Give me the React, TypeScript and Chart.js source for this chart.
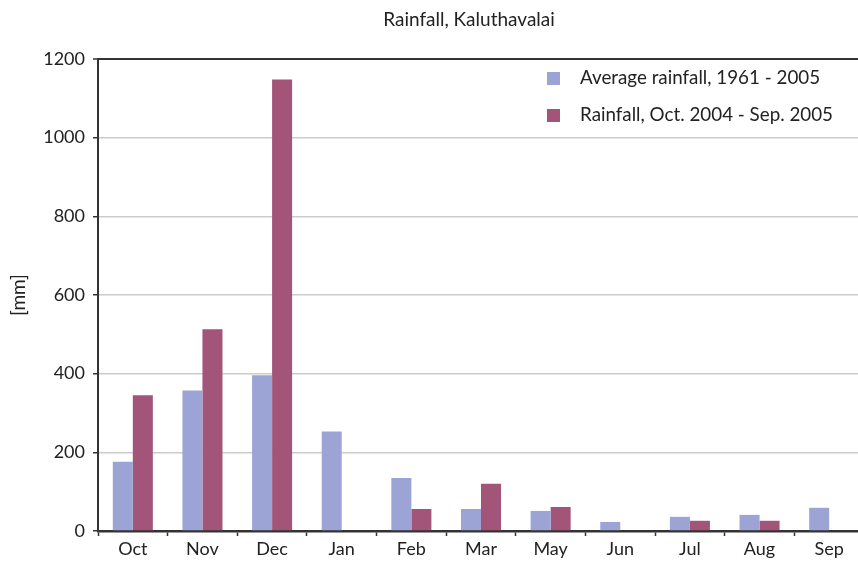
import React, { useEffect, useRef } from "react";
import { Chart, registerables } from "chart.js";

Chart.register(...registerables);

const TITLE = "Rainfall, Kaluthavalai";
const Y_TITLE = "[mm]";
const months = ["Oct", "Nov", "Dec", "Jan", "Feb", "Mar", "May", "Jun", "Jul", "Aug", "Sep"];
const avgLabel = "Average rainfall, 1961 - 2005";
const rainLabel = "Rainfall, Oct. 2004 - Sep. 2005";
const avgRain = [176, 357, 396, 253, 135, 56, 51, 23, 36, 41, 59];
const rain0405 = [345, 513, 1148, 0, 56, 120, 61, 0, 26, 26, 0];
const yTicks = [0, 200, 400, 600, 800, 1000, 1200];

const AVG_COLOR = "#9ca4d5";
const RAIN_COLOR = "#a25479";
const AXIS = "#333333";
const GRID = "#cccccc";
const FONT = "Lato";

const titlePlugin = {
  id: "centerTitle",
  afterDraw(chart: any) {
    const { ctx } = chart;
    ctx.save();
    ctx.font = `19px ${FONT}`;
    ctx.fillStyle = "#222";
    ctx.textAlign = "center";
    ctx.textBaseline = "middle";
    ctx.fillText(TITLE, chart.width / 2, 20);
    ctx.restore();
  },
};

const legendPlugin = {
  id: "insideLegend",
  afterDatasetsDraw(chart: any) {
    const { ctx, chartArea } = chart;
    const items = chart.data.datasets;
    ctx.save();
    ctx.font = `18.8px ${FONT}`;
    ctx.textBaseline = "middle";
    ctx.textAlign = "left";
    items.forEach((ds: any, i: number) => {
      const x = chartArea.right - 317;
      const y = chartArea.top + 19 + i * 37;
      ctx.fillStyle = ds.backgroundColor;
      ctx.fillRect(x, y - 6, 13, 13);
      ctx.fillStyle = "#222";
      ctx.fillText(ds.label, x + 33, y);
    });
    ctx.restore();
  },
};

export default function App() {
  const ref = useRef<HTMLCanvasElement>(null);
  useEffect(() => {
    if (!ref.current) return;
    const chart = new Chart(ref.current, {
      type: "bar",
      data: {
        labels: months,
        datasets: [
          { label: avgLabel, data: avgRain, backgroundColor: AVG_COLOR, borderWidth: 0 },
          { label: rainLabel, data: rain0405, backgroundColor: RAIN_COLOR, borderWidth: 0 },
        ],
      },
      options: {
        responsive: false,
        animation: false,
        devicePixelRatio: 1,
        layout: { padding: { left: 0, right: 74, top: 59, bottom: 0 } },
        datasets: { bar: { categoryPercentage: 0.575, barPercentage: 1 } },
        plugins: {
          legend: { display: false },
          tooltip: { enabled: false },
          title: { display: false },
        },
        scales: {
          x: {
            offset: true,
            grid: {
              offset: true,
              drawOnChartArea: false,
              drawTicks: true,
              tickLength: 5,
              tickColor: AXIS,
              tickWidth: 1.5,
            },
            border: { display: true, color: AXIS, width: 2.5 },
            ticks: { color: "#222", font: { family: FONT, size: 18 }, padding: 2, maxRotation: 0 },
            afterFit(scale: any) {
              scale.height = 31;
            },
          },
          y: {
            min: 0,
            max: 1200,
            afterBuildTicks(scale: any) {
              scale.ticks = yTicks.map((v) => ({ value: v }));
            },
            grid: {
              color: (c: any) => (c.tick && c.tick.value === 1200 ? AXIS : GRID),
              lineWidth: (c: any) => (c.tick && c.tick.value === 1200 ? 2 : 1.5),
              tickColor: AXIS,
              tickLength: 5,
              tickWidth: 1.5,
            },
            border: { display: true, color: AXIS, width: 2 },
            ticks: {
              color: "#222",
              font: { family: FONT, size: 18 },
              padding: 8,
              callback: (v: any) => String(v),
            },
            title: {
              display: true,
              text: Y_TITLE,
              color: "#222",
              font: { family: FONT, size: 19 },
              padding: { top: 7, bottom: 0 },
            },
            afterFit(scale: any) {
              scale.width = 98;
            },
          },
        },
      },
      plugins: [legendPlugin, titlePlugin],
    } as any);
    return () => chart.destroy();
  }, []);
  return (
    <div style={{ position: "fixed", left: 0, top: 0, width: 858, height: 562, overflow: "hidden", background: "#fff" }}>
      <canvas ref={ref} width={938} height={562} style={{ display: "block" }} />
    </div>
  );
}
